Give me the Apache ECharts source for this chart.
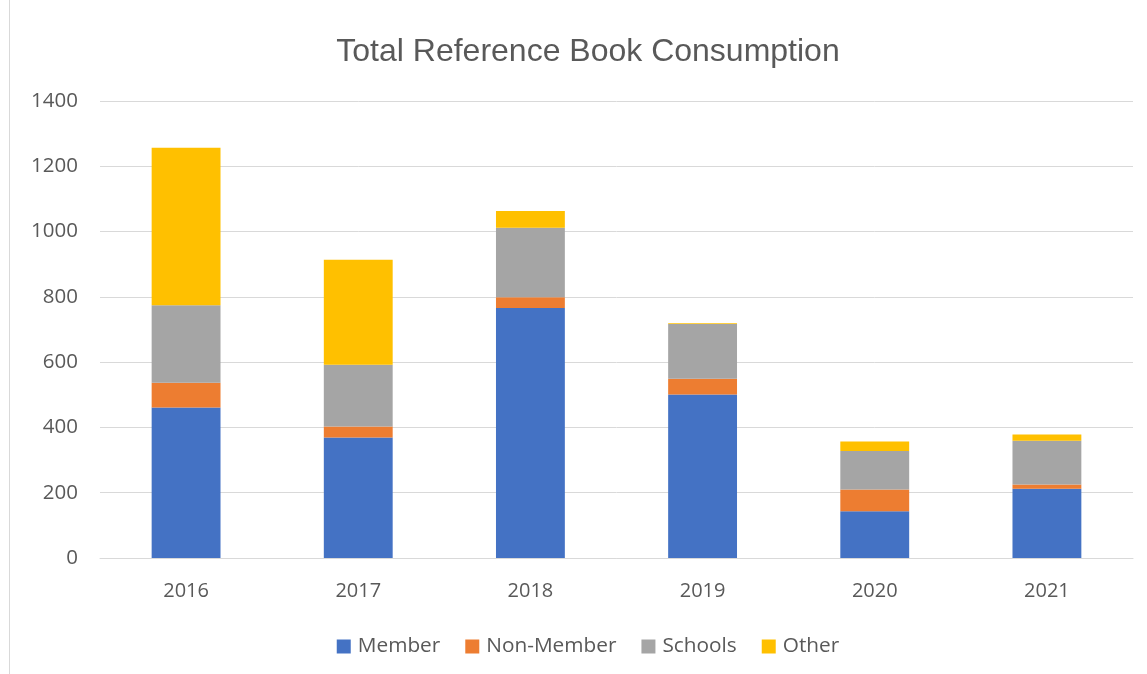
<!DOCTYPE html>
<html>
<head>
<meta charset="utf-8">
<script src="https://cdn.jsdelivr.net/npm/echarts@6/dist/echarts.min.js"></script>
<style>
  html, body { margin: 0; padding: 0; background: #fff; overflow: hidden; }
  #chart { position: absolute; left: 9px; top: -1px; width: 1158px; height: 676px; border: 1px solid #d9d9d9; box-sizing: border-box; }
</style>
</head>
<body>
<div id="chart"></div>
<script>
var years = ['2016', '2017', '2018', '2019', '2020', '2021'];
var member = [461, 369, 766, 501, 143, 212];
var nonMember = [76, 34, 33, 48, 67, 13];
var schools = [237, 189, 213, 168, 118, 134];
var other = [483, 322, 51, 2, 29, 19];
var yTicks = [0, 200, 400, 600, 800, 1000, 1200, 1400];

var font = '"Open Sans", sans-serif';
var chart = echarts.init(document.getElementById('chart'));

function stackSeries(name, data, color) {
    return {
        name: name,
        type: 'bar',
        stack: 'total',
        barWidth: '40%',
        data: data,
        itemStyle: { color: color },
        emphasis: { disabled: true }
    };
}

chart.setOption({
    animation: false,
    title: {
        text: 'Total Reference Book Consumption',
        left: 'center',
        top: 31,
        textStyle: { color: '#595959', fontSize: 32, fontWeight: 'normal', fontFamily: '"Liberation Sans", Arial, sans-serif' }
    },
    legend: {
        top: 631,
        left: 'center',
        itemWidth: 14,
        itemHeight: 14,
        itemGap: 25,
        icon: 'rect',
        textStyle: { color: '#595959', fontSize: 20.8, fontFamily: font, padding: [0, 0, 0, 2] }
    },
    grid: { left: 90, right: 33, top: 101, bottom: 116 },
    xAxis: {
        type: 'category',
        data: years,
        axisLine: { lineStyle: { color: '#d9d9d9', width: 1 } },
        axisTick: { show: false },
        axisLabel: { color: '#595959', fontSize: 20, fontFamily: font, margin: 23 }
    },
    yAxis: {
        type: 'value',
        min: yTicks[0],
        max: yTicks[yTicks.length - 1],
        interval: 200,
        axisLine: { show: false },
        axisTick: { show: false },
        splitLine: { lineStyle: { color: '#d9d9d9', width: 1 } },
        axisLabel: { color: '#595959', fontSize: 20.5, fontFamily: font, margin: 22, formatter: function (v) { return String(v); } }
    },
    series: [
        stackSeries('Member', member, '#4472C4'),
        stackSeries('Non-Member', nonMember, '#ED7D31'),
        stackSeries('Schools', schools, '#A5A5A5'),
        stackSeries('Other', other, '#FFC000')
    ]
});
</script>
</body>
</html>
